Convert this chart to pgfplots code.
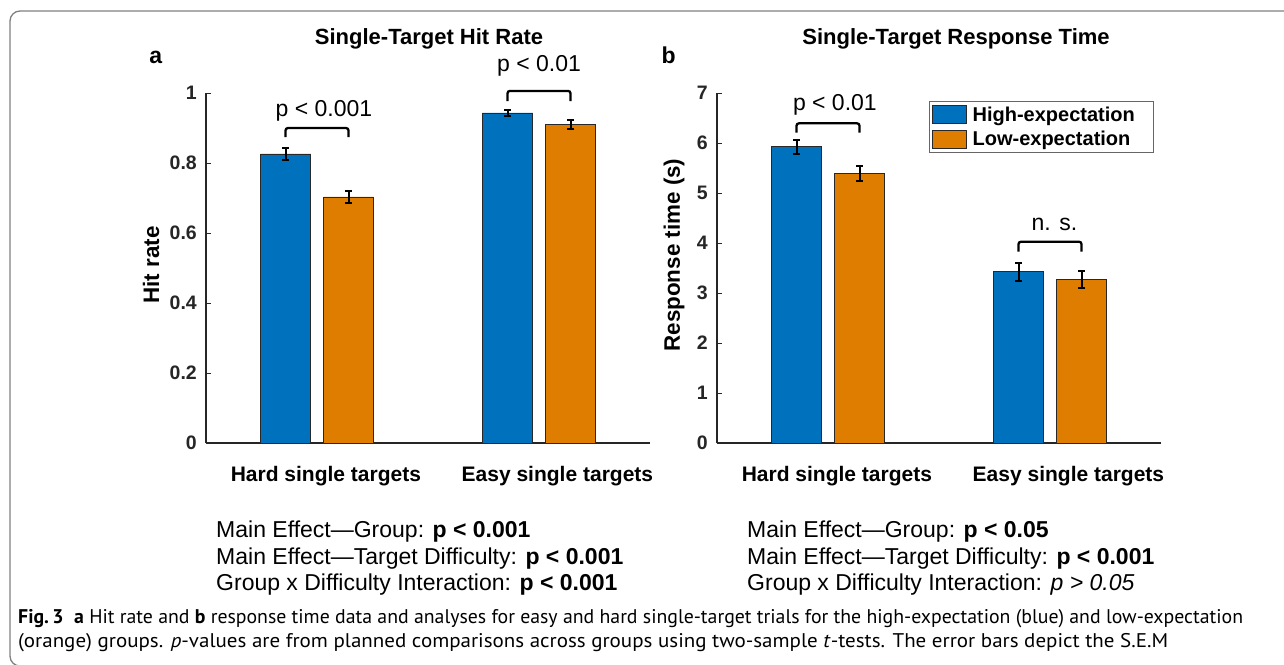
\documentclass[border=0pt]{standalone}
\usepackage{pgfplots}
\pgfplotsset{compat=1.18}
\usepackage{fontspec}
\setmainfont{Liberation Sans}
\newfontfamily\capfont{PT Sans}
\definecolor{hblue}{RGB}{0,114,189}
\definecolor{lorange}{RGB}{222,125,0}
\definecolor{axgray}{RGB}{38,38,38}
\definecolor{edgec}{RGB}{40,40,40}
\newcommand\fs[1]{\fontsize{#1}{#1}\selectfont}

\tikzset{bracket/.style={line width=2.3pt, black, rounded corners=2.5pt}}
\pgfplotsset{
  panel/.style={
    scale only axis, width=444pt, height=350pt,
    axis x line*=bottom, axis y line*=left,
    axis line style={axgray, line width=1.3pt},
    xmin=0.5, xmax=2.5, ymin=0,
    xtick={1.04,2.083},
    xticklabels={Hard single targets, Easy single targets},
    major x tick style={draw=none},
    ytick style={axgray, line width=1pt},
    tick align=inside, major tick length=5pt,
    xticklabel style={font=\bfseries\fs{21}, text=black, anchor=base, yshift=-33.5pt},
    yticklabel style={font=\bfseries\fs{19.5}, text=axgray, anchor=east, inner sep=0pt, xshift=-9pt},
    ybar=12.5pt, bar width=50.5pt,
    clip=false,
  },
  errs/.style={
    error bars/.cd, y dir=both, y explicit,
    error bar style={line width=2pt, black},
    error mark=-,
    error mark options={rotate=90, mark size=3.5pt, line width=2pt, black},
  },
  swatch/.style={legend image code/.code={\draw[##1, line width=0.8pt] (0pt,-9pt) rectangle (33.5pt,9pt);}},
}

\begin{document}
\begin{tikzpicture}
\useasboundingbox (0pt,0pt) rectangle (1284pt,-664pt);
\fill[white] (0pt,0pt) rectangle (1284pt,-664pt);
\draw[gray, line width=1.3pt, rounded corners=10pt] (1300pt,-11pt) -- (10pt,-11pt) -- (10pt,-666pt) -- (40pt,-666pt);

% panel a
\begin{axis}[panel, at={(206pt,-443pt)}, anchor=south west, ymax=1,
  ytick={0,0.2,0.4,0.6,0.8,1}, yticklabels={0,0.2,0.4,0.6,0.8,1}]
\addplot[fill=hblue, draw=edgec, line width=0.8pt, errs] coordinates {
  (1,0.826) +- (0,0.016)
  (2,0.943) +- (0,0.008)
};
\addplot[fill=lorange, draw=edgec, line width=0.8pt, errs] coordinates {
  (1,0.703) +- (0,0.018)
  (2,0.910) +- (0,0.012)
};
\draw[bracket] (axis cs:0.858,0.874) |- (axis cs:1.142,0.900) -- (axis cs:1.142,0.874);
\node[anchor=base, font=\fs{23}] at (axis cs:1.031,0.932) {p < 0.001};
\draw[bracket] (axis cs:1.858,0.977) |- (axis cs:2.142,1.006) -- (axis cs:2.142,0.977);
\node[anchor=base, font=\fs{23}] at (axis cs:2.0,1.061) {p < 0.01};
\end{axis}

% panel b
\begin{axis}[panel, at={(717pt,-443pt)}, anchor=south west, ymax=7,
  ytick={0,1,2,3,4,5,6,7}, yticklabels={0,1,2,3,4,5,6,7},
  legend cell align=left,
  legend style={at={(0.985,0.977)}, anchor=north east, draw=gray!80!black, line width=1pt,
    font=\bfseries\fs{20}, row sep=4.5pt, inner xsep=3pt, inner ysep=3pt}]
\addplot[fill=hblue, draw=edgec, line width=0.8pt, swatch, errs] coordinates {
  (1,5.93) +- (0,0.14)
  (2,3.43) +- (0,0.18)
};
\addlegendentry{\hspace{4pt}High-expectation\hspace{14pt}\mbox{}}
\addplot[fill=lorange, draw=edgec, line width=0.8pt, swatch, errs] coordinates {
  (1,5.39) +- (0,0.15)
  (2,3.27) +- (0,0.17)
};
\addlegendentry{\hspace{4pt}Low-expectation\hspace{14pt}\mbox{}}
\draw[bracket] (axis cs:0.858,6.206) |- (axis cs:1.142,6.394) -- (axis cs:1.142,6.206);
\node[anchor=base, font=\fs{23}] at (axis cs:1.031,6.66) {p < 0.01};
\draw[bracket] (axis cs:1.858,3.826) |- (axis cs:2.142,4.026) -- (axis cs:2.142,3.826);
\node[anchor=base, font=\fs{23}] at (axis cs:2.02,4.26) {n. s.};
\end{axis}

% titles, panel letters, axis labels
\node[anchor=base, font=\bfseries\fs{22}] at (429pt,-44pt) {Single-Target Hit Rate};
\node[anchor=base, font=\bfseries\fs{22}] at (956pt,-44pt) {Single-Target Response Time};
\node[anchor=base, font=\bfseries\fs{23}] at (155.7pt,-63pt) {a};
\node[anchor=base, font=\bfseries\fs{23}] at (668.7pt,-63pt) {b};
\node[rotate=90, font=\bfseries\fs{22.4}] at (151pt,-265pt) {Hit rate};
\node[rotate=90, font=\bfseries\fs{22.4}] at (674pt,-255pt) {Response time (s)};

% statistics
\begin{scope}[every node/.style={anchor=base west, inner sep=0pt, font=\fs{23}}]
\node at (216pt,-537pt) {Main Effect---Group: \textbf{p < 0.001}};
\node at (216pt,-564pt) {Main Effect---Target Difficulty: \textbf{p < 0.001}};
\node at (216pt,-590pt) {Group x Difficulty Interaction: \textbf{p < 0.001}};
\node at (747pt,-537pt) {Main Effect---Group: \textbf{p < 0.05}};
\node at (747pt,-564pt) {Main Effect---Target Difficulty: \textbf{p < 0.001}};
\node at (747pt,-590pt) {Group x Difficulty Interaction: \textit{p > 0.05}};
\end{scope}

% caption
\begin{scope}[every node/.style={anchor=base west, inner sep=0pt, font=\capfont\fs{19.8}}]
\node at (18pt,-623pt) {\textbf{Fig.\,3}\ \ \textbf{a} Hit rate and \textbf{b} response time data and analyses for easy and hard single-target trials for the high-expectation (blue) and low-expectation};
\node at (18pt,-647pt) {\scalebox{1.06}[1]{(orange) groups. \textit{p}-values are from planned comparisons across groups using two-sample \textit{t}-tests. The error bars depict the S.E.M}};
\end{scope}
\end{tikzpicture}
\end{document}
